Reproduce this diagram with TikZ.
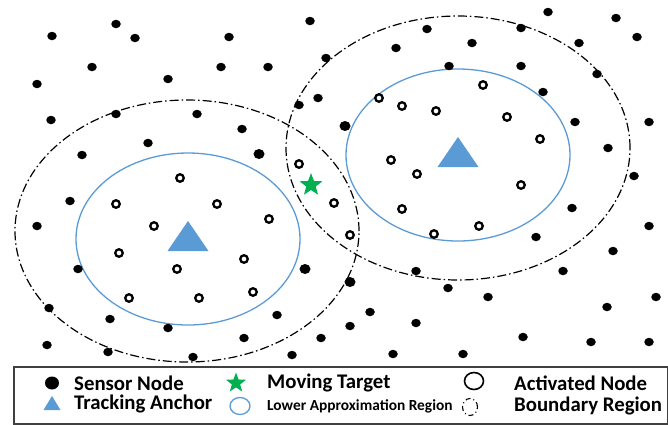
\documentclass[tikz,border=0pt]{standalone}
\usepackage{fontspec}
\setmainfont{Carlito}
\usetikzlibrary{shapes.geometric}
\definecolor{ablue}{HTML}{5B9BD5}
\definecolor{agreen}{HTML}{00B050}
\tikzset{
  sensor/.style={ellipse, fill=black, inner sep=0pt, minimum width=9.5pt, minimum height=8.5pt},
  bigsensor/.style={ellipse, fill=black, inner sep=0pt, minimum width=11pt, minimum height=10pt},
  actnode/.style={circle, draw=black, line width=2.3pt, inner sep=0pt, minimum size=7.5pt},
  target/.style={star, star points=5, star point ratio=2.4, fill=agreen, inner sep=0pt, minimum size=24pt},
  boundary/.style={draw=black, line width=1.2pt, dash pattern=on 9pt off 3pt on 1.5pt off 3pt},
  lowerreg/.style={draw=ablue, line width=1.3pt},
  legtext/.style={anchor=west, inner sep=0pt, font=\bfseries\fontsize{20.8}{20.8}\selectfont},
  legsmall/.style={anchor=west, inner sep=0pt, font=\bfseries\fontsize{15.4}{15.4}\selectfont}
}
\begin{document}
\begin{tikzpicture}[x=1pt,y=-1pt]
\useasboundingbox (0,0) rectangle (668,424);
% regions
\draw[boundary] (187,231) ellipse [x radius=172pt, y radius=131pt];
\draw[boundary] (458,148) ellipse [x radius=172pt, y radius=132pt];
\draw[lowerreg] (188,239) ellipse [x radius=112pt, y radius=86pt];
\draw[lowerreg] (458,155) ellipse [x radius=112pt, y radius=86pt];
% tracking anchors
\fill[ablue] (188,221) -- (167.5,251) -- (208.5,251) -- cycle;
\fill[ablue] (458,137) -- (437.5,167) -- (478.5,167) -- cycle;
% sensor nodes
\foreach \x/\y [count=\i] in {52/36,116/24,135/38,229/37,310/21,92/67,37/84,168/79,221/67,268/67,326/58,51/120,116/114,197/114,318/98,299/105,242/129,148/143,82/155,
548/12,616/18,427/29,521/28,637/37,396/48,472/43,579/43,449/66,521/66,597/74,543/92,575/122,649/122,608/148,634/176,
70/201,37/226,78/269,49/308,110/319,168/328,277/315,47/345,108/352,244/338,321/338,292/355,193/357,
572/208,649/226,536/237,613/251,416/271,563/271,448/288,488/297,656/297,607/307,370/312,350/326,416/323,523/337,591/342,649/342,393/354,463/354}
  \node[sensor] (s\i) at (\x,\y) {};
\foreach \x/\y [count=\i] in {259/154,345/126,305/269,350/282}
  \node[bigsensor] (b\i) at (\x,\y) {};
% activated nodes
\foreach \x/\y [count=\i] in {299/164,180/178,483/85,379/98,402/106,436/111,507/117,540/139,391/160,417/174,521/185,402/209,479/226,434/234,350/235,334/203,116/204,217/204,154/226,269/219,119/253,244/259,177/269,129/298,199/298,253/292}
  \node[actnode] (a\i) at (\x,\y) {};
% moving target
\node[target] (tgt) at (311,185) {};
% legend
\node[draw=black!75, line width=1.5pt, inner sep=0pt, minimum width=654pt, minimum height=57pt, anchor=north west] (legend) at (13,366) {};
\node[ellipse, fill=black, inner sep=0pt, minimum width=14pt, minimum height=13pt] (lgsensor) at (52,383) {};
\node[legtext] (lgsensort) at (74,383) {Sensor Node};
\fill[ablue] (52,396) -- (43.5,410) -- (60.5,410) -- cycle;
\node[legtext] (lganchort) at (74,404) {Tracking Anchor};
\node[target, minimum size=21pt] (lgtarget) at (236,383) {};
\node[legtext] (lgtargett) at (267,383) {Moving Target};
\node[ellipse, lowerreg, inner sep=0pt, minimum width=20pt, minimum height=17pt] (lglower) at (240,406) {};
\node[legsmall] (lglowert) at (267,406) {Lower Approximation Region};
\node[ellipse, draw=black, line width=1.6pt, inner sep=0pt, minimum width=19pt, minimum height=17pt] (lgact) at (474,381) {};
\node[legtext] (lgactt) at (514,383) {Activated Node};
\node[ellipse, draw=black, line width=1.1pt, dash pattern=on 5pt off 3pt on 1pt off 3pt, inner sep=0pt, minimum width=15pt, minimum height=17pt] (lgbound) at (470,407) {};
\node[legtext] (lgboundt) at (514,406) {Boundary Region};
\end{tikzpicture}
\end{document}
